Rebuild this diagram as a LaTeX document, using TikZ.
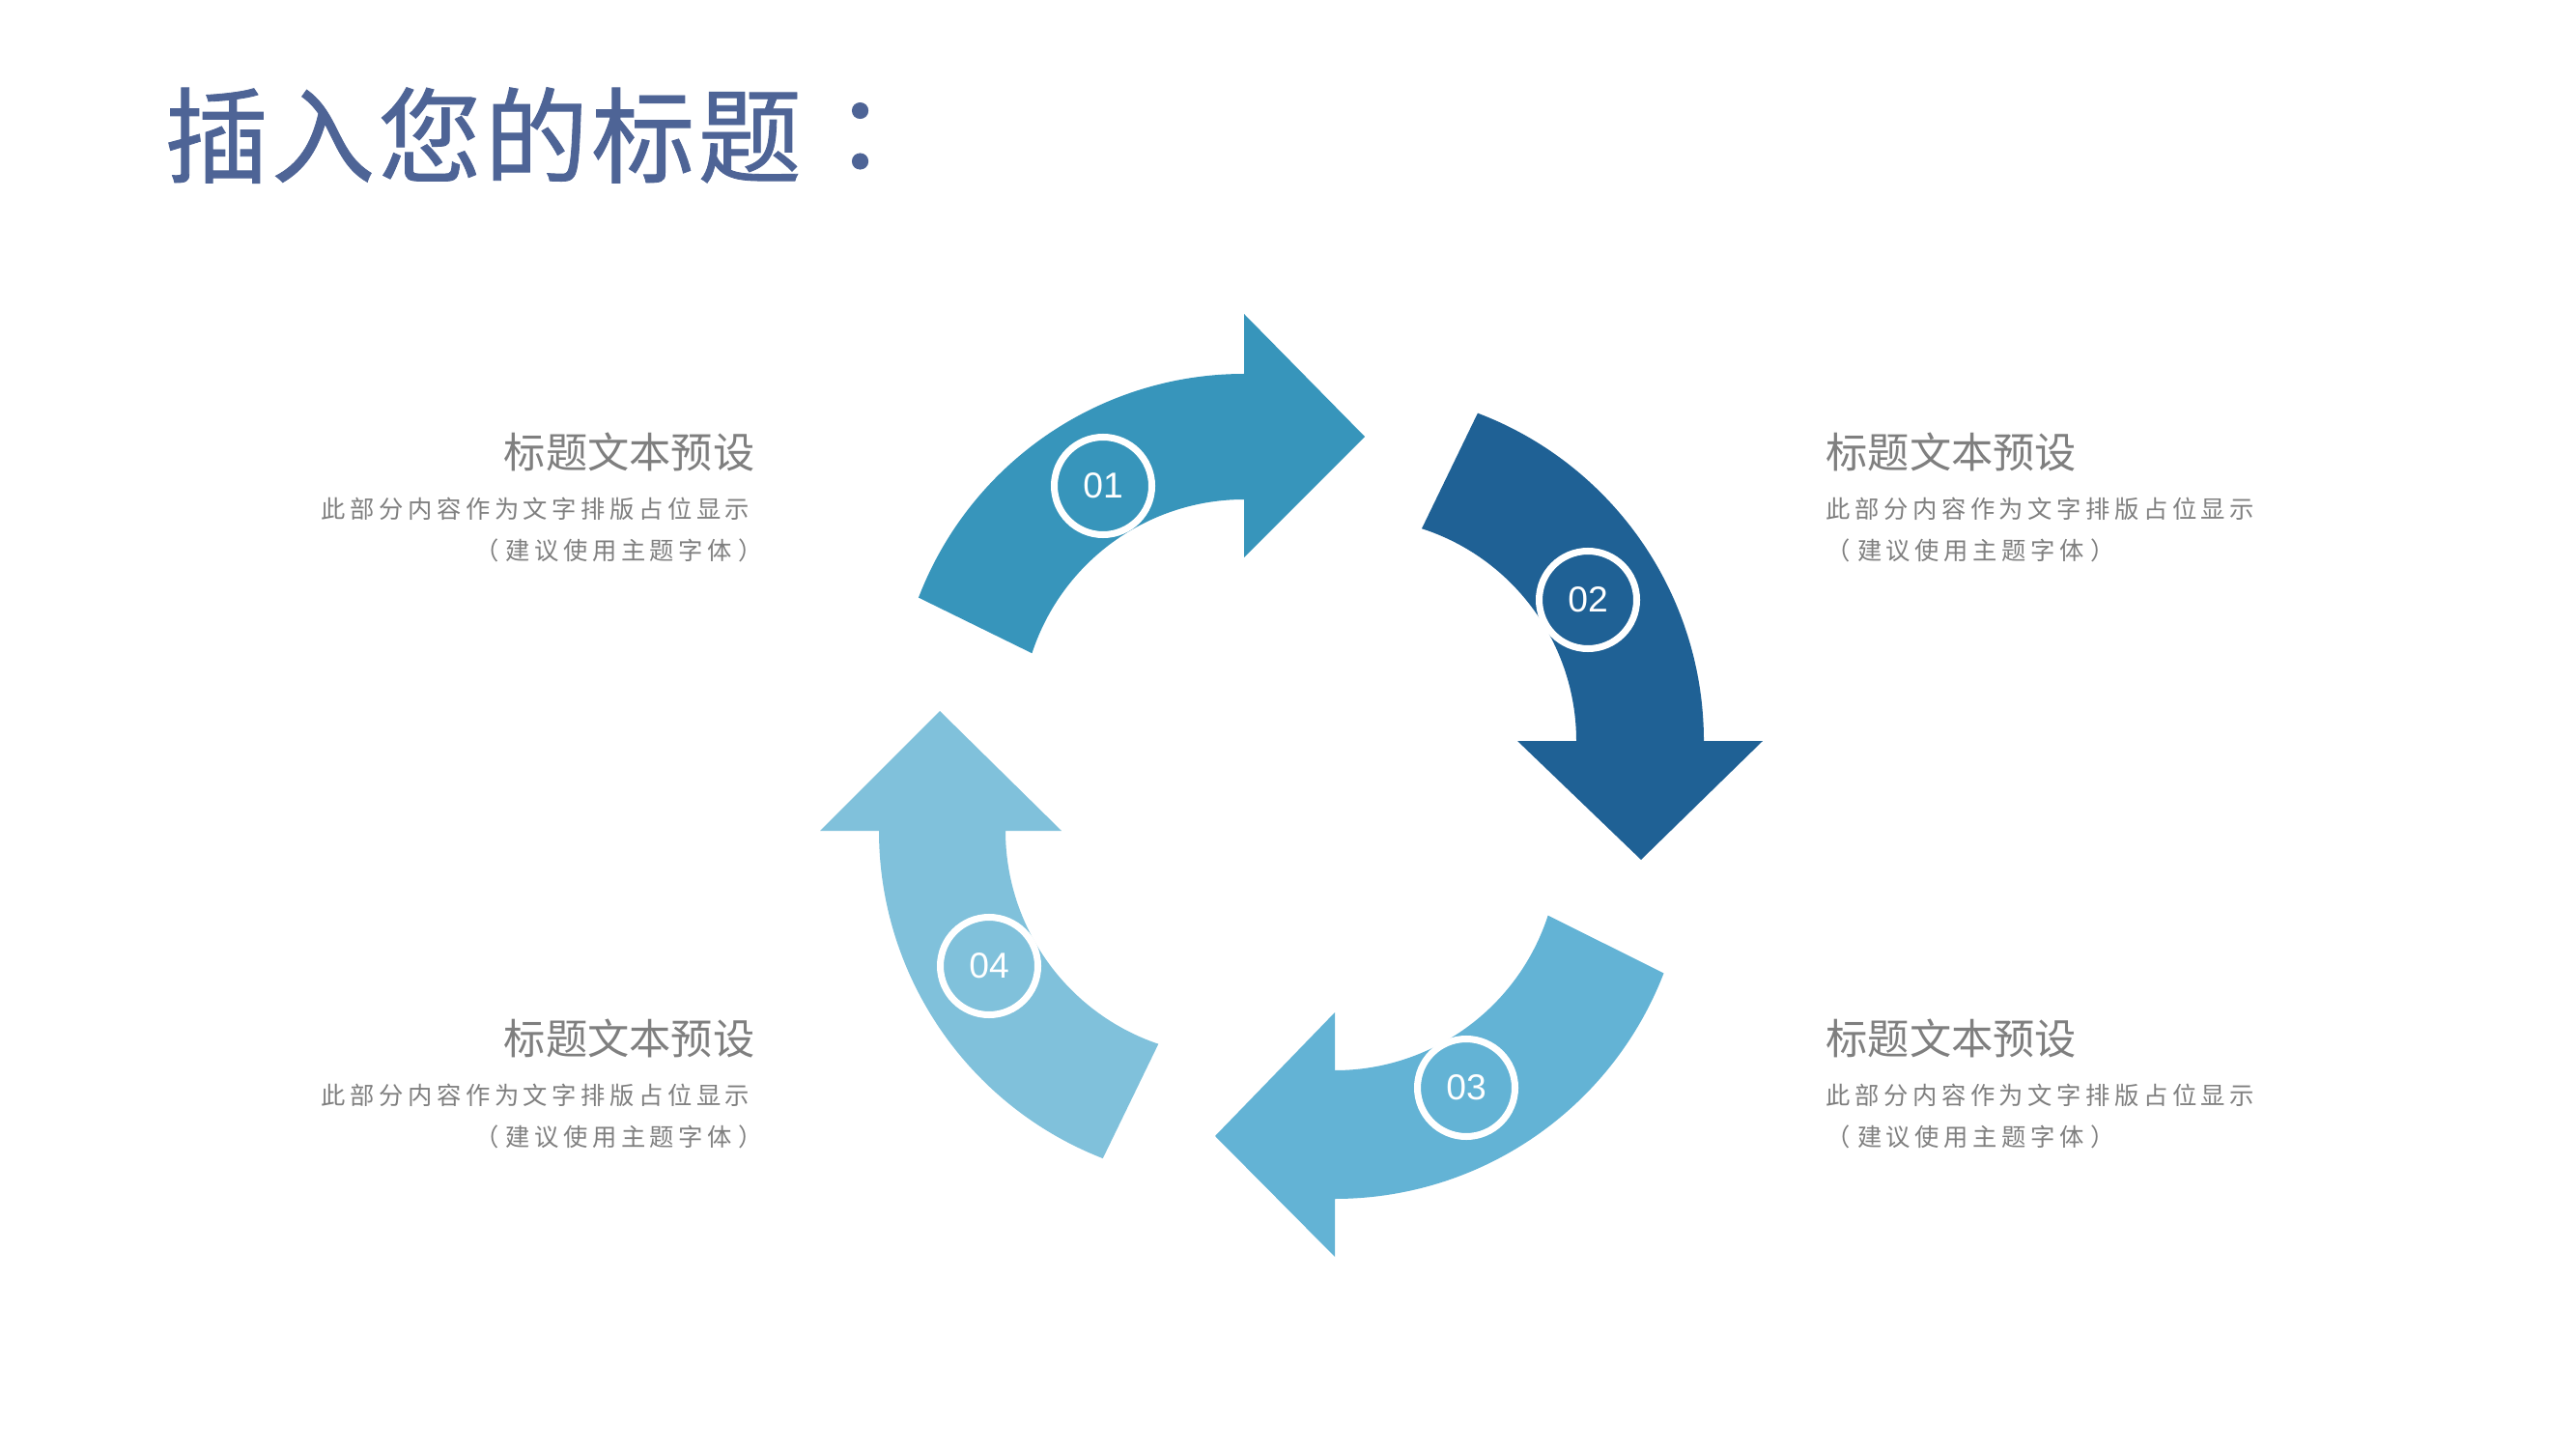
\documentclass[tikz,border=0pt]{standalone}
\usepackage{fontspec}
\usetikzlibrary{positioning}
\setmainfont{Liberation Sans}
\newfontfamily\cjk{Noto Sans CJK SC}
\newfontfamily\cjktitle[LetterSpace=3, FakeBold=0.8]{Noto Sans CJK SC}
\newfontfamily\cjkcolon[FakeBold=0.8]{Noto Sans CJK TC}
\newfontfamily\cjkbody[LetterSpace=18]{Noto Sans CJK SC}
\definecolor{titleblue}{HTML}{4E6496}
\definecolor{textgrey}{HTML}{7F7F7F}
\definecolor{arrowone}{HTML}{3795BB}
\definecolor{arrowtwo}{HTML}{1F6195}
\definecolor{arrowthree}{HTML}{63B3D5}
\definecolor{arrowfour}{HTML}{80C1DB}
\newcommand{\hintline}{（\hspace{0.07cm}建议使用主题字体\hspace{0.07cm}）}

\begin{document}
\begin{tikzpicture}[num/.style={circle, draw=white, line width=2pt, minimum size=1.01cm, inner sep=0pt, text=white, font=\fontsize{10.6}{12}\selectfont},
	head/.style={text=textgrey, font=\cjk\fontsize{12.3}{14}\selectfont, inner sep=0pt},
	body/.style={text=textgrey, font=\cjkbody\fontsize{7.2}{12.2}\selectfont, inner sep=0pt}]
			\useasboundingbox (0,0) rectangle (26.67,15);
			\fill[white] (0,0) rectangle (26.67,15);
			
			\node[anchor=west, inner sep=0pt, text=titleblue, font=\cjktitle\fontsize{30.5}{32}\selectfont] (title) at (1.70,13.60) {插入您的标题\hspace{0.07cm}{\cjkcolon ：}};
			
			\begin{scope}[shift={(12.88,7.52)}]
				\fill[arrowone] (159:3.61) arc[start angle=159, end angle=90, radius=3.61] -- (0,4.23) -- (1.25,2.96) -- (0,1.71) -- (0,2.31) arc[start angle=90, end angle=161.9, radius=2.31] -- cycle;
			\end{scope}
			\begin{scope}[shift={(14.01,7.33)}]
				\fill[arrowtwo] (69.2:3.63) arc[start angle=69.2, end angle=0, radius=3.63] -- (4.24,0) -- (2.98,-1.23) -- (1.70,0) -- (2.31,0) arc[start angle=0, end angle=72.1, radius=2.31] -- cycle;
			\end{scope}
			\begin{scope}[shift={(13.82,6.24)}]
				\fill[arrowthree] (-21.1:3.65) arc[start angle=-21.1, end angle=-90, radius=3.65] -- (0,-4.25) -- (-1.24,-3.00) -- (0,-1.72) -- (0,-2.32) arc[start angle=-90, end angle=-18, radius=2.32] -- cycle;
			\end{scope}
			\begin{scope}[shift={(12.74,6.40)}]
				\fill[arrowfour] (248.7:3.64) arc[start angle=248.7, end angle=180, radius=3.64] -- (-4.25,0) -- (-3.01,1.24) -- (-1.75,0) -- (-2.33,0) arc[start angle=180, end angle=251.3, radius=2.33] -- cycle;
			\end{scope}
			
			\node[num] (one) at (11.42,9.97) {01};
			\node[num] (two) at (16.44,8.79) {02};
			\node[num] (three) at (15.18,3.74) {03};
			\node[num] (four) at (10.24,5.00) {04};
			
			\node[head, anchor=east] (headtl) at (7.82,10.32) {标题文本预设};
			\node[body, align=right, below=0.26cm of headtl.south east, xshift=-0.05cm, anchor=north east] (bodytl) {此部分内容作为文字排版占位显示\\\hintline\hspace*{-0.14cm}};
			\node[head, anchor=west] (headtr) at (18.90,10.32) {标题文本预设};
			\node[body, align=left, below=0.26cm of headtr.south west, anchor=north west] (bodytr) {此部分内容作为文字排版占位显示\\\hintline};
			\node[head, anchor=east] (headbl) at (7.82,4.25) {标题文本预设};
			\node[body, align=right, below=0.26cm of headbl.south east, xshift=-0.05cm, anchor=north east] (bodybl) {此部分内容作为文字排版占位显示\\\hintline\hspace*{-0.14cm}};
			\node[head, anchor=west] (headbr) at (18.90,4.25) {标题文本预设};
			\node[body, align=left, below=0.26cm of headbr.south west, anchor=north west] (bodybr) {此部分内容作为文字排版占位显示\\\hintline};
		\end{tikzpicture}
\end{document}
